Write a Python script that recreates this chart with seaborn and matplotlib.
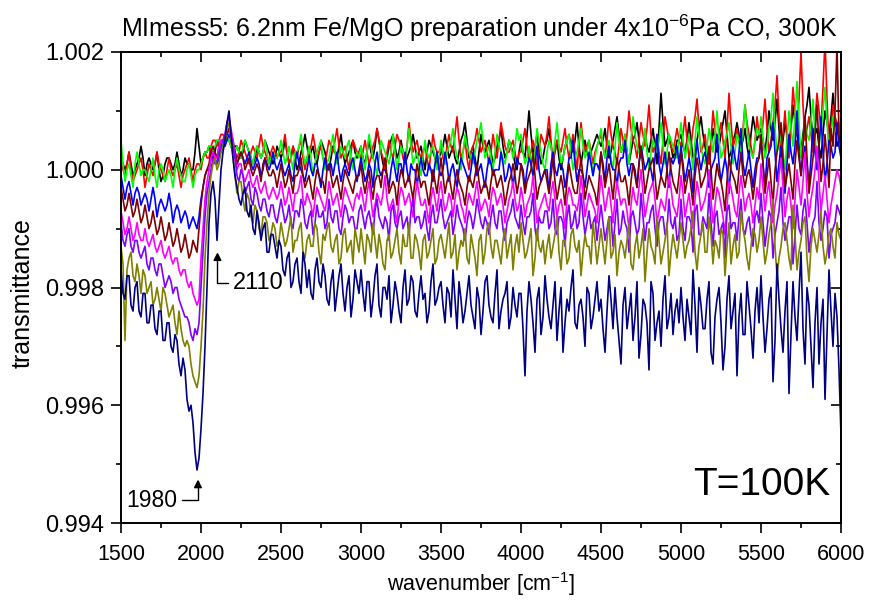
import numpy as np
import pandas as pd
import matplotlib
matplotlib.use("Agg")
import matplotlib.pyplot as plt
from matplotlib.ticker import MultipleLocator, FormatStrFormatter
import seaborn as sns

# wavenumber grids (cm^-1): main samples and the samples half-way between them
wavenumber = np.arange(1500, 6001, 25)
wavenumber_mid = np.arange(1512.5, 6000, 25)

# transmittance deviations from 1.0, in units of 1e-4
navy_dT = [
    -17, -22, -18, -24, -19, -25, -21, -26, -23, -28, -24, -29, -26, -31, -29, -35, -34, -41, -43, -51,
    -44, -30, -9, -2, -12, 0, 5, 10, 2, -3, -6, -3, -8, -10, -7, -12, -9, -14, -11, -15,
    -13, -18, -14, -19, -15, -21, -16, -17, -22, -15, -20, -18, -23, -17, -21, -16, -24, -18, -22, -19,
    -17, -24, -19, -22, -16, -25, -20, -18, -23, -21, -26, -17, -22, -19, -25, -18, -21, -24, -16, -22,
    -19, -26, -21, -17, -27, -22, -24, -18, -25, -20, -28, -19, -23, -26, -17, -24, -21, -27, -20, -25,
    -21, -35, -19, -26, -22, -28, -18, -25, -23, -29, -20, -26, -24, -17, -27, -22, -30, -21, -25, -19,
    -22, -31, -18, -27, -25, -33, -20, -24, -29, -19, -28, -23, -34, -21, -26, -30, -18, -25, -28, -22,
    -20, -29, -25, -17, -31, -23, -27, -19, -33, -22, -26, -30, -18, -24, -35, -21, -28, -23, -32, -20,
    -18, -31, -22, -36, -16, -27, -24, -38, -19, -29, -14, -33, -23, -37, -20, -26, -39, -17, -30, -25,
    -45]
navy_mid_dT = [
    -21, -18, -23, -20, -24, -21, -26, -23, -27, -24, -29, -26, -30, -28, -33, -32, -39, -40, -48, -49,
    -38, -20, -4, -5, -6, 3, 8, 6, -1, -5, -4, -7, -6, -11, -9, -10, -14, -11, -13, -12,
    -17, -15, -20, -16, -19, -14, -20, -21, -17, -19, -16, -22, -19, -24, -18, -21, -20, -25, -17, -21,
    -21, -19, -25, -18, -23, -20, -22, -26, -19, -24, -20, -23, -18, -24, -21, -22, -26, -19, -23, -20,
    -23, -20, -25, -22, -19, -26, -21, -23, -27, -22, -24, -18, -25, -21, -27, -22, -19, -25, -23, -21,
    -27, -24, -22, -31, -20, -25, -22, -27, -19, -24, -31, -22, -20, -26, -23, -25, -20, -27, -22, -24,
    -27, -24, -22, -20, -29, -23, -27, -21, -25, -32, -22, -26, -19, -29, -24, -22, -27, -21, -24, -26,
    -25, -22, -28, -23, -20, -27, -22, -31, -25, -20, -34, -22, -27, -21, -25, -28, -19, -27, -24, -26,
    -25, -27, -20, -29, -22, -31, -19, -28, -25, -21, -27, -20, -30, -26, -33, -22, -28, -24, -21, -34]
olive_dT = [
    -13, -29, -15, -18, -16, -21, -18, -20, -23, -20, -24, -21, -25, -23, -28, -27, -30, -30, -35, -37,
    -30, -15, -4, 1, 0, 3, 5, 8, 2, -4, -2, -7, -5, -9, -7, -11, -8, -12, -9, -13,
    -9, -13, -10, -14, -12, -9, -15, -11, -13, -10, -16, -12, -9, -14, -11, -15, -10, -13, -16, -12,
    -10, -16, -12, -9, -15, -13, -17, -11, -14, -10, -16, -13, -9, -15, -12, -17, -11, -14, -10, -15,
    -11, -15, -9, -14, -17, -12, -10, -16, -13, -18, -11, -14, -9, -15, -12, -16, -10, -13, -17, -11,
    -9, -15, -12, -18, -10, -14, -16, -11, -13, -8, -17, -12, -15, -10, -14, -18, -11, -13, -9, -16,
    -10, -16, -8, -14, -18, -12, -15, -9, -17, -11, -13, -19, -10, -14, -8, -16, -12, -18, -11, -15,
    -9, -15, -12, -7, -17, -11, -14, -8, -16, -13, -10, -18, -9, -13, -15, -7, -12, -17, -10, -14,
    -8, -16, -11, -5, -18, -13, -9, -15, -6, -17, -12, -8, -19, -10, -14, -7, -16, -11, -13, -9,
    -12]
olive_mid_dT = [
    -16, -17, -14, -19, -18, -17, -21, -19, -22, -22, -20, -23, -24, -26, -24, -29, -29, -33, -36, -35,
    -24, -9, -1, 2, 1, 4, 7, 5, -1, -2, -5, -4, -8, -6, -10, -8, -9, -11, -10, -12,
    -11, -12, -8, -12, -10, -14, -12, -13, -9, -14, -11, -10, -13, -12, -16, -11, -14, -12, -10, -14,
    -13, -11, -14, -12, -11, -16, -12, -15, -12, -14, -11, -13, -15, -11, -14, -12, -15, -12, -16, -12,
    -13, -12, -15, -11, -14, -13, -15, -11, -15, -12, -16, -10, -13, -12, -14, -12, -15, -11, -13, -14,
    -12, -14, -10, -15, -13, -12, -13, -15, -11, -14, -12, -16, -11, -13, -12, -14, -13, -16, -12, -13,
    -13, -12, -15, -11, -14, -13, -12, -16, -13, -15, -10, -14, -13, -16, -12, -14, -9, -14, -13, -12,
    -12, -13, -10, -14, -13, -9, -14, -11, -12, -15, -11, -13, -16, -11, -14, -10, -15, -13, -11, -12,
    -12, -14, -9, -13, -15, -10, -12, -17, -11, -14, -9, -15, -13, -12, -11, -13, -14, -10, -15, -11]
violet_dT = [
    -9, -13, -10, -14, -12, -15, -13, -17, -15, -18, -16, -20, -18, -21, -20, -23, -25, -26, -29, -28,
    -20, -8, -2, 2, 1, 4, 6, 9, 4, -1, 0, -4, -2, -6, -4, -7, -5, -8, -6, -9,
    -5, -9, -6, -10, -7, -5, -9, -8, -11, -6, -8, -10, -5, -9, -7, -11, -6, -9, -8, -10,
    -6, -10, -7, -11, -5, -9, -8, -12, -6, -10, -7, -9, -11, -5, -8, -10, -7, -12, -6, -9,
    -5, -10, -8, -11, -6, -9, -12, -7, -10, -5, -9, -8, -11, -6, -10, -7, -12, -8, -5, -9,
    -6, -11, -8, -4, -12, -9, -7, -10, -5, -11, -8, -13, -6, -9, -10, -4, -11, -7, -9, -12,
    -6, -12, -8, -13, -5, -10, -9, -14, -7, -11, -4, -12, -9, -6, -13, -8, -11, -5, -10, -12,
    -5, -12, -8, -14, -6, -11, -9, -4, -13, -7, -10, -15, -6, -9, -12, -5, -11, -8, -13, -7,
    -4, -13, -7, -15, -9, -3, -12, -8, -16, -6, -11, -5, -14, -9, -2, -12, -7, -15, -10, -6,
    -8]
violet_mid_dT = [
    -12, -11, -13, -12, -14, -14, -16, -15, -17, -16, -18, -19, -19, -20, -22, -24, -25, -28, -27, -26,
    -14, -4, 0, 1, 3, 5, 8, 6, 2, -2, -1, -3, -5, -3, -6, -5, -7, -6, -8, -7,
    -7, -8, -9, -7, -8, -6, -10, -7, -9, -8, -7, -9, -8, -7, -10, -8, -7, -8, -10, -7,
    -8, -8, -9, -7, -8, -10, -9, -7, -9, -8, -10, -8, -7, -9, -8, -9, -10, -8, -9, -7,
    -8, -9, -7, -9, -8, -10, -9, -8, -8, -7, -10, -9, -8, -9, -7, -10, -9, -7, -8, -10,
    -9, -8, -7, -10, -8, -9, -7, -9, -10, -8, -9, -8, -10, -7, -9, -8, -9, -10, -8, -9,
    -9, -10, -8, -9, -11, -7, -10, -8, -9, -10, -8, -9, -7, -10, -9, -8, -10, -9, -8, -11,
    -10, -8, -9, -7, -11, -8, -10, -9, -8, -11, -9, -7, -10, -9, -8, -10, -9, -11, -8, -9,
    -9, -10, -8, -11, -7, -9, -10, -8, -11, -10, -7, -9, -11, -8, -9, -10, -8, -11, -9, -7]
magenta_dT = [
    -7, -11, -8, -12, -9, -12, -10, -13, -11, -14, -12, -15, -13, -16, -15, -18, -17, -20, -21, -23,
    -15, -5, 0, 3, 2, 5, 6, 9, 5, 0, 1, -2, 0, -3, -1, -4, -2, -5, -3, -5,
    -2, -6, -3, -7, -4, -1, -6, -5, -8, -3, -5, -7, -2, -6, -4, -8, -3, -5, -7, -4,
    -3, -7, -2, -8, -4, -6, -1, -7, -5, -9, -3, -6, -4, -8, -2, -6, -5, -9, -3, -7,
    -2, -7, -4, -8, -3, -6, -9, -4, -6, -2, -7, -5, -8, -3, -6, -4, -9, -5, -2, -7,
    -3, -8, -5, -1, -9, -6, -4, -7, -2, -8, -5, -10, -3, -6, -7, -1, -8, -4, -6, -9,
    -1, -7, -3, -9, -2, -6, -5, -10, -3, -6, 0, -8, -4, -2, -9, -5, -7, -1, -6, -8,
    -1, -8, -4, -10, -2, -7, -5, 0, -9, -3, -6, -11, -2, -5, -8, -1, -7, -4, -9, -3,
    1, -7, -2, -9, -4, 2, -8, -3, -10, 0, -6, 3, -8, -3, 4, -7, -1, -9, -4, 0,
    -3]
magenta_mid_dT = [
    -9, -10, -10, -11, -11, -12, -12, -12, -13, -13, -14, -14, -15, -15, -17, -17, -19, -19, -22, -22,
    -10, -2, 2, 2, 4, 5, 8, 7, 2, 1, -1, -1, -2, -2, -3, -3, -4, -4, -4, -4,
    -4, -5, -5, -4, -3, -5, -4, -6, -5, -4, -6, -5, -4, -5, -6, -5, -4, -6, -5, -5,
    -5, -4, -5, -6, -5, -4, -5, -6, -7, -5, -4, -5, -6, -5, -4, -6, -7, -5, -5, -4,
    -5, -6, -5, -5, -4, -7, -6, -5, -4, -5, -6, -6, -5, -4, -5, -6, -7, -4, -5, -6,
    -5, -6, -4, -5, -7, -5, -6, -4, -5, -6, -7, -5, -4, -6, -5, -4, -6, -5, -7, -5,
    -4, -5, -6, -5, -4, -5, -7, -6, -5, -3, -4, -6, -3, -5, -7, -6, -4, -3, -7, -5,
    -4, -6, -7, -5, -4, -6, -3, -5, -6, -4, -8, -6, -3, -7, -4, -4, -5, -6, -6, -5,
    -3, -4, -6, -6, -1, -3, -5, -6, -5, -3, -2, -4, -5, 0, -2, -4, -5, -6, -2, -1]
darkred_dT = [
    -3, -7, -4, -8, -5, -9, -6, -10, -7, -11, -8, -12, -9, -13, -10, -14, -11, -15, -12, -14,
    -6, -1, 1, 4, 2, 5, 5, 7, 5, 1, 3, 0, 2, -1, 1, -2, 2, -1, 0, -3,
    1, -3, 0, -4, -1, 2, -3, -1, -5, 0, -2, -4, 1, -3, -1, -5, 0, -2, -4, -1,
    1, -4, 0, -5, -1, -3, 2, -4, -2, -6, 0, -3, -1, -5, 1, -3, -2, -6, 0, -4,
    2, -4, -1, -5, 0, -3, -6, -1, -3, 1, -4, -2, -5, 0, -3, -1, -6, -2, 1, -4,
    1, -4, -1, 3, -5, -2, 0, -4, 2, -5, -1, -6, 1, -3, -4, 2, -5, -1, -3, -6,
    3, -3, 1, -5, 2, -2, -1, -6, 1, -3, 4, -4, 0, 2, -5, -1, -3, 3, -2, -4,
    3, -4, 0, -6, 2, -3, -1, 4, -5, 1, -2, -7, 2, -1, -4, 3, -3, 0, -5, 1,
    6, -4, 2, -6, 3, 8, -3, 1, -5, 5, -1, 9, -4, 2, 11, -2, 6, -3, 4, 21,
    3]
darkred_mid_dT = [
    -5, -6, -6, -7, -7, -8, -8, -9, -9, -10, -10, -11, -11, -12, -12, -13, -13, -14, -13, -10,
    -3, 0, 3, 3, 4, 5, 6, 6, 3, 2, 2, 1, 0, 0, 0, 1, 0, -1, -1, -1,
    -1, -2, -2, -1, 0, -1, -2, -3, -2, -1, -2, 0, -1, -2, -3, -2, -1, -3, -2, -1,
    -2, -2, -3, -2, -1, 0, -1, -3, -3, -2, -1, -2, -3, -2, -1, -2, -4, -3, -2, -1,
    -1, -2, -3, -2, -2, -4, -3, -2, -1, -2, -3, -3, -2, -1, -2, -3, -4, -1, -1, -2,
    -1, -2, 0, -1, -3, -1, -2, -1, -2, -3, -3, -2, -1, -4, -1, -1, -3, -2, -4, -2,
    0, -1, -2, -1, 0, -2, -3, -2, -1, 1, 0, -2, 1, -1, -3, -2, 0, 0, -3, -1,
    0, -2, -3, -1, 0, -2, 1, 0, -2, -1, -4, -2, 0, -2, 0, -1, -1, -2, -2, 2,
    1, -1, -2, 0, 5, 2, -1, -2, 1, 2, 4, 2, -1, 6, 4, 1, 2, 7, 10, 6]
blue_dT = [
    -1, -5, -2, -6, -3, -6, -4, -7, -3, -8, -5, -7, -4, -9, -6, -9, -7, -10, -8, -10,
    -5, -1, 0, 3, 1, 4, 4, 6, 4, 1, 3, 1, 3, 0, 2, -1, 2, 0, 3, 0,
    2, -1, 1, -2, 3, 0, -2, 2, -1, 1, -3, 2, 0, -1, 3, -2, 1, -1, 2, -2,
    2, -2, 1, -3, 3, -1, 0, -3, 2, -2, 1, 3, -2, 0, -3, 2, -1, 1, -2, 3,
    -1, 3, -2, 1, -3, 2, 0, -2, 3, -1, 1, -3, 2, -1, 0, 3, -2, 1, -3, 2,
    1, -3, 2, -1, 4, -2, 0, -4, 3, -1, 1, -3, 2, 5, -2, 0, -3, 3, -1, 1,
    3, -2, 4, 0, -3, 2, 5, -1, 1, -3, 4, 0, 2, -2, 6, -1, 3, -3, 1, 4,
    4, -2, 2, -4, 5, 0, 3, -3, 1, 6, -2, 2, -4, 4, 0, 7, -1, 3, -3, 2,
    5, -3, 3, 8, -2, 4, -4, 6, 1, 10, -1, 4, -3, 7, 0, 9, -2, 5, 2, 8,
    2]
blue_mid_dT = [
    -3, -3, -4, -4, -4, -5, -5, -5, -5, -6, -6, -6, -6, -7, -7, -8, -8, -9, -9, -8,
    -3, 0, 2, 2, 2, 4, 5, 5, 3, 2, 2, 2, 1, 1, 1, 0, 1, 1, 1, 1,
    0, 0, -1, 1, 1, -1, 0, 0, 1, -1, 0, 0, 1, 1, 0, 0, 0, 1, 0, 0,
    0, -1, 0, 1, 0, 0, -1, 0, 0, 1, -1, 0, 1, 0, 0, 0, -1, 0, 1, 0,
    0, 1, 0, -1, 0, 1, -1, 0, 1, 0, -1, 0, 1, 0, 0, 1, -1, 0, 0, 1,
    0, 0, 1, 1, 0, -1, 0, 1, 0, 1, 0, -1, 2, 1, 0, -1, 0, 1, 1, 0,
    1, 2, 1, 0, 1, 2, 1, 1, 0, 1, 2, 1, 0, 2, 1, 1, 0, 2, 2, 1,
    1, 0, 0, 1, 2, 2, 1, 0, 2, 1, 0, 0, 1, 2, 3, 1, 1, 0, 0, 2,
    1, 2, 4, 3, 1, 0, 1, 3, 4, 3, 2, 1, 2, 3, 4, 3, 1, 4, 3, 4]
green_dT = [
    5, -2, 1, -3, 3, -1, 0, -2, 2, -3, 1, -2, 0, -3, 2, -1, -2, 1, -3, 0,
    1, 3, 4, 3, 5, 4, 6, 5, 3, 4, 2, 5, 3, 1, 4, 2, 5, 1, 3, 2,
    5, 1, 4, 0, 3, 6, 1, 4, -1, 3, 5, 0, 2, 6, 1, 4, 2, 5, 0, 3,
    4, 0, 6, 2, -1, 5, 3, 1, 6, 0, 4, 2, 7, 1, 3, -1, 5, 2, 4, 0,
    5, 1, 4, 7, 2, 0, 6, 3, 1, 5, 8, 2, 4, 0, 6, 3, 1, 5, 2, 7,
    6, 1, 4, -1, 7, 3, 0, 5, 2, 8, 1, 4, 6, 0, 3, 7, 2, 5, -1, 4,
    7, 2, 5, 0, 8, 3, 6, 1, 9, 4, 2, 7, 0, 5, 3, 8, 1, 6, 4, 2,
    8, 2, 6, 0, 9, 4, 1, 7, 3, 10, 2, 5, 8, 1, 6, 3, 11, 4, 2, 7,
    9, 2, 7, 13, 3, 6, 0, 10, 4, 15, 2, 8, 5, 12, 1, 7, 14, 3, 9, 6,
    5]
green_mid_dT = [
    1, 0, -1, 1, 1, 0, -1, 0, -1, 0, 0, -1, -1, 0, 0, -2, 0, -1, -1, 0,
    2, 3, 4, 4, 5, 5, 5, 4, 3, 3, 4, 4, 2, 3, 3, 3, 3, 2, 2, 3,
    3, 2, 2, 3, 4, 3, 2, 2, 1, 4, 2, 1, 4, 3, 2, 3, 4, 2, 2, 2,
    2, 3, 4, 1, 2, 4, 2, 3, 3, 2, 3, 4, 4, 2, 1, 2, 3, 3, 2, 2,
    3, 3, 5, 4, 1, 3, 4, 2, 3, 6, 5, 3, 2, 3, 4, 2, 3, 4, 4, 5,
    3, 2, 1, 3, 5, 1, 3, 4, 5, 4, 2, 5, 3, 2, 5, 4, 3, 2, 2, 5,
    4, 3, 2, 4, 5, 4, 3, 5, 6, 3, 4, 3, 3, 4, 5, 4, 3, 5, 3, 5,
    5, 4, 3, 5, 6, 2, 4, 5, 6, 5, 3, 6, 4, 3, 5, 6, 7, 3, 5, 6,
    5, 4, 9, 7, 4, 3, 5, 7, 9, 8, 5, 6, 8, 6, 4, 10, 8, 6, 7, 8]
red_dT = [
    1, -1, 3, -2, 0, 2, -3, 1, -1, 3, 0, -2, 2, -1, 1, -3, 0, 2, -2, 1,
    0, 3, 2, 5, 4, 6, 5, 7, 4, 2, 5, 3, 1, 4, 2, 6, 3, 1, 4, 2,
    3, 6, 1, 4, 2, 5, 0, 3, 6, 2, 4, 1, 5, 3, 7, 2, 4, 0, 5, 3,
    2, 5, 1, 4, 7, 3, 0, 5, 2, 6, 4, 1, 8, 3, 5, 2, 4, 0, 6, 3,
    4, 1, 6, 3, 9, 2, 5, 0, 4, 7, 3, 5, 1, 6, 2, 8, 4, 3, 5, 1,
    3, 7, 2, 5, 0, 6, 4, 9, 1, 5, 3, 7, 2, 6, 0, 8, 3, 5, 1, 4,
    6, 2, 9, 4, 1, 7, 3, 10, 5, 2, 8, 4, 11, 3, 6, 1, 9, 5, 3, 7,
    4, 9, 2, 7, 12, 3, 6, 1, 10, 5, 8, 2, 13, 4, 7, 3, 11, 6, 2, 9,
    5, 12, 3, 8, 16, 4, 10, 2, 14, 6, 20, 5, 9, 3, 13, 7, 22, 4, 11, 8,
    6]
red_mid_dT = [
    0, 1, 0, -1, 1, 0, -1, 0, 1, 1, -1, 0, 0, 0, -1, -1, 1, 0, 0, 1,
    2, 2, 4, 5, 5, 6, 6, 5, 3, 3, 4, 2, 3, 3, 4, 4, 2, 3, 3, 3,
    4, 3, 2, 3, 4, 2, 2, 4, 4, 3, 2, 3, 4, 5, 4, 3, 2, 3, 4, 3,
    3, 3, 2, 5, 5, 2, 3, 3, 4, 5, 2, 4, 5, 4, 3, 3, 2, 3, 4, 3,
    2, 4, 4, 6, 5, 3, 2, 3, 5, 5, 4, 3, 3, 4, 5, 6, 3, 4, 3, 3,
    5, 4, 3, 3, 3, 5, 6, 5, 3, 4, 5, 4, 4, 3, 4, 5, 4, 3, 3, 5,
    4, 5, 6, 3, 4, 5, 6, 7, 4, 5, 6, 7, 6, 4, 3, 5, 7, 4, 5, 5,
    6, 5, 4, 9, 7, 4, 3, 5, 7, 6, 5, 7, 8, 5, 5, 7, 8, 4, 5, 6,
    8, 7, 5, 11, 9, 6, 5, 8, 10, 12, 11, 7, 6, 8, 10, 14, 12, 7, 9, 7]
black_dT = [
    2, 0, 3, -1, 1, 4, -1, 2, 0, 3, -2, 1, 2, 0, 3, -1, 2, 1, 0, 7,
    1, 3, 4, 2, 5, 3, 6, 5, 3, 4, 2, 5, 3, 1, 4, 2, 5, 3, 1, 4,
    2, 5, 1, 4, 0, 3, 6, 2, 4, 1, 5, 3, 0, 4, 2, 6, 1, 3, 5, 2,
    4, 1, 5, 2, 7, 3, 0, 4, 6, 2, 5, 1, 3, 6, 2, 4, 0, 5, 3, 1,
    3, 6, 2, 4, 1, 5, 8, 2, 4, 0, 6, 3, 5, 1, 4, 7, 2, 5, 3, 0,
    5, 2, 10, 3, 6, 1, 4, 7, 2, 5, 0, 4, 6, 3, 8, 1, 5, 2, 4, 6,
    4, 7, 2, 5, 9, 3, 6, 1, 5, 8, 2, 6, 3, 7, 1, 13, 4, 6, 2, 5,
    6, 3, 8, 2, 5, 9, 4, 1, 7, 3, 6, 10, 2, 5, 8, 4, 7, 2, 9, 5,
    7, 3, 10, 5, 12, 2, 8, 4, 11, 6, 3, 9, 14, 5, 7, 2, 10, 6, 13, 4,
    5]
black_mid_dT = [
    1, 1, 1, 0, 2, 2, 1, 1, 1, 0, -1, 2, 1, 1, 1, 0, 1, 0, 3, 4,
    2, 3, 3, 3, 4, 4, 5, 4, 4, 3, 3, 4, 2, 2, 3, 3, 4, 2, 2, 3,
    3, 3, 2, 2, 1, 4, 4, 3, 2, 3, 4, 1, 2, 3, 4, 3, 2, 4, 3, 3,
    2, 3, 3, 4, 5, 1, 2, 5, 4, 3, 3, 2, 4, 4, 3, 2, 3, 4, 2, 2,
    4, 4, 3, 2, 3, 6, 5, 3, 2, 3, 4, 4, 3, 2, 5, 4, 3, 4, 1, 3,
    3, 6, 6, 4, 3, 2, 5, 4, 3, 2, 2, 5, 4, 5, 4, 3, 3, 3, 5, 5,
    5, 4, 3, 7, 6, 4, 3, 3, 6, 5, 4, 4, 5, 4, 7, 8, 5, 4, 3, 5,
    4, 5, 5, 3, 7, 6, 2, 4, 5, 4, 8, 6, 3, 6, 6, 5, 4, 6, 7, 6,
    5, 6, 7, 8, 7, 5, 6, 7, 8, 4, 6, 11, 9, 6, 4, 6, 8, 9, 8, 5]

series_names = ["black", "red", "green", "blue", "darkred", "magenta", "violet", "olive", "navy"]
series_values = [black_dT, red_dT, green_dT, blue_dT, darkred_dT, magenta_dT, violet_dT, olive_dT, navy_dT]
series_mid_values = [black_mid_dT, red_mid_dT, green_mid_dT, blue_mid_dT, darkred_mid_dT,
                     magenta_mid_dT, violet_mid_dT, olive_mid_dT, navy_mid_dT]
series_colors = ["#000000", "#FF0000", "#00FF00", "#0000FF", "#800000", "#FF00FF", "#8000FF", "#808000", "#000080"]

title_text = "MImess5: 6.2nm Fe/MgO preparation under 4x10$^{-6}$Pa CO, 300K"
xlabel_text = "wavenumber [cm$^{-1}$]"
ylabel_text = "transmittance"

frames = []
for name, vals, mids in zip(series_names, series_values, series_mid_values):
    assert len(vals) == len(wavenumber), (name, len(vals))
    assert len(mids) == len(wavenumber_mid), (name, len(mids))
    x = np.concatenate([wavenumber, wavenumber_mid])
    y = 1.0 + np.concatenate([np.array(vals), np.array(mids)]) * 1e-4
    order = np.argsort(x)
    frames.append(pd.DataFrame({"wavenumber": x[order], "transmittance": y[order], "series": name}))
df = pd.concat(frames, ignore_index=True)

sns.set_style("ticks")
plt.rcParams["font.family"] = ["Liberation Sans", "DejaVu Sans"]
plt.rcParams["mathtext.fontset"] = "custom"
plt.rcParams["mathtext.rm"] = "Liberation Sans"
plt.rcParams["mathtext.it"] = "Liberation Sans"
plt.rcParams["mathtext.default"] = "regular"
plt.rcParams["text.color"] = "black"
plt.rcParams["axes.labelcolor"] = "black"
plt.rcParams["xtick.color"] = "black"
plt.rcParams["ytick.color"] = "black"

fig = plt.figure(figsize=(8.72, 6.06), dpi=100)
ax = fig.add_axes([121 / 872, 1 - 523 / 606, 720 / 872, 471 / 606])

sns.lineplot(data=df, x="wavenumber", y="transmittance", hue="series",
             hue_order=series_names, palette=dict(zip(series_names, series_colors)),
             estimator=None, sort=False, linewidth=1.2, legend=False, ax=ax)

ax.set_xlim(1500, 6000)
ax.set_ylim(0.994, 1.002)
ax.xaxis.set_major_locator(MultipleLocator(500))
ax.xaxis.set_minor_locator(MultipleLocator(250))
ax.yaxis.set_major_locator(MultipleLocator(0.002))
ax.yaxis.set_minor_locator(MultipleLocator(0.001))
ax.yaxis.set_major_formatter(FormatStrFormatter("%.3f"))
ax.set_xlabel("")
ax.set_ylabel("")
for sp in ax.spines.values():
    sp.set_visible(True)
    sp.set_linewidth(1.4)
    sp.set_color("black")
ax.tick_params(which="both", direction="out", top=False, right=False, width=1.2,
               colors="black", labelcolor="black")
ax.tick_params(which="major", length=7)
ax.tick_params(which="minor", length=3.6)
ax.tick_params(axis="x", labelsize=15.5, pad=8)
ax.tick_params(axis="y", labelsize=17, pad=5)

secx = ax.secondary_xaxis("top")
secx.xaxis.set_major_locator(MultipleLocator(500))
secx.xaxis.set_minor_locator(MultipleLocator(250))
secx.tick_params(which="both", direction="in", labeltop=False, width=1.2, colors="black")
secx.tick_params(which="major", length=7)
secx.tick_params(which="minor", length=3.6)
secx.spines["top"].set_linewidth(1.4)

secy = ax.secondary_yaxis("right")
secy.yaxis.set_major_locator(MultipleLocator(0.002))
secy.yaxis.set_minor_locator(MultipleLocator(0.001))
secy.tick_params(which="both", direction="in", labelright=False, width=1.2, colors="black")
secy.tick_params(which="major", length=7)
secy.tick_params(which="minor", length=3.6)
secy.spines["right"].set_linewidth(1.4)

fig.text(479 / 872, 1 - 37 / 606, title_text, ha="center", va="baseline", fontsize=18, color="black")
fig.text(481 / 872, 1 - 591 / 606, xlabel_text, ha="center", va="baseline", fontsize=15.5, color="black")
fig.text(23 / 872, 1 - 293 / 606, ylabel_text, ha="center", va="center", rotation=90, fontsize=18,
         color="black")

ax.text(0.985, 0.059, "T=100K", transform=ax.transAxes, ha="right", va="baseline", fontsize=28,
        color="black")

arrow_kw = dict(arrowstyle="-|>", connectionstyle="angle,angleA=0,angleB=90,rad=0",
                color="black", lw=1.0, shrinkA=1, shrinkB=0, mutation_scale=12)
ax.annotate("1980", xy=(1981, 0.99474), xytext=(1850, 0.99439), ha="right", va="center",
            fontsize=16.5, color="black", arrowprops=arrow_kw)
ax.annotate("2110", xy=(2103, 0.99860), xytext=(2200, 0.99808), ha="left", va="center",
            fontsize=17, color="black", arrowprops=arrow_kw)

fig.savefig("out.png", dpi=100)
